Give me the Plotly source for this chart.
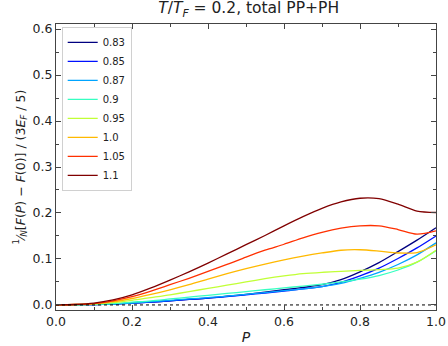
import plotly.graph_objects as go

P = [0.0, 0.05, 0.1, 0.15, 0.2, 0.25, 0.3, 0.35, 0.4, 0.45, 0.5, 0.55, 0.6, 0.65, 0.7, 0.75, 0.8, 0.85, 0.9, 0.95, 1.0]

labels = ["0.83", "0.85", "0.87", "0.9", "0.95", "1.0", "1.05", "1.1"]
colors = ["#000080", "#0010ff", "#00a4ff", "#36ffc1", "#c1ff36", "#ffb900", "#ff3000", "#800000"]

f_083 = [0, 0.0002, 0.001, 0.002, 0.004, 0.006, 0.009, 0.012, 0.015, 0.019, 0.023, 0.028, 0.033, 0.038, 0.044, 0.055, 0.072, 0.092, 0.116, 0.141, 0.168]
f_085 = [0, 0.0002, 0.001, 0.002, 0.004, 0.006, 0.009, 0.012, 0.015, 0.018, 0.022, 0.026, 0.030, 0.035, 0.040, 0.049, 0.063, 0.080, 0.101, 0.124, 0.150]
f_087 = [0, 0.0003, 0.001, 0.002, 0.004, 0.007, 0.010, 0.013, 0.016, 0.019, 0.023, 0.027, 0.031, 0.035, 0.040, 0.047, 0.058, 0.071, 0.088, 0.109, 0.135]
f_090 = [0, 0.0004, 0.0015, 0.003, 0.006, 0.009, 0.013, 0.017, 0.021, 0.025, 0.029, 0.033, 0.037, 0.041, 0.045, 0.050, 0.056, 0.064, 0.076, 0.093, 0.118]
f_095 = [0, 0.0005, 0.002, 0.005, 0.010, 0.016, 0.022, 0.029, 0.036, 0.043, 0.050, 0.057, 0.063, 0.068, 0.071, 0.073, 0.075, 0.077, 0.080, 0.093, 0.119]
f_100 = [0, 0.001, 0.003, 0.007, 0.014, 0.023, 0.033, 0.044, 0.056, 0.068, 0.079, 0.089, 0.098, 0.106, 0.113, 0.119, 0.120, 0.117, 0.113, 0.114, 0.131]
f_105 = [0, 0.001, 0.003, 0.009, 0.018, 0.030, 0.044, 0.058, 0.073, 0.088, 0.104, 0.119, 0.132, 0.146, 0.158, 0.167, 0.172, 0.172, 0.164, 0.154, 0.161]
f_110 = [0, 0.001, 0.004, 0.011, 0.022, 0.037, 0.054, 0.072, 0.091, 0.111, 0.131, 0.151, 0.172, 0.192, 0.210, 0.224, 0.232, 0.231, 0.219, 0.204, 0.201]

series = [f_083, f_085, f_087, f_090, f_095, f_100, f_105, f_110]

fig = go.Figure()
for lab, col, ys in zip(labels, colors, series):
    fig.add_trace(go.Scatter(x=P, y=ys, mode="lines", name=lab,
                             line=dict(color=col, width=1.3, shape="spline", smoothing=0.8)))

fig.add_trace(go.Scatter(x=[0, 1], y=[0, 0], mode="lines", showlegend=False,
                         line=dict(color="black", width=1, dash="dot")))

axis_common = dict(showgrid=False, zeroline=False, showline=True, linecolor="#444",
                   linewidth=1.2, mirror="ticks", ticks="inside", ticklen=5,
                   tickcolor="#444", tickfont=dict(size=12.5, color="#222"),
                   automargin=False)

fig.update_xaxes(range=[0, 1], tick0=0, dtick=0.2, tickformat=".1f",
                 minor=dict(ticks="inside", ticklen=3, dtick=0.1, tickcolor="#444"),
                 title=dict(text="<i>P</i>", font=dict(size=14, color="#222"), standoff=4),
                 **axis_common)
fig.update_yaxes(range=[-0.011, 0.611], tick0=0, dtick=0.1, tickformat=".1f",
                 minor=dict(ticks="inside", ticklen=3, dtick=0.05, tickcolor="#444"),
                 title=dict(text="<sup>1</sup>⁄<sub><i>N</i></sub>[<i>F</i>(<i>P</i>) − <i>F</i>(0)] / (3<i>E</i><sub><i>F</i></sub> / 5)",
                            font=dict(size=12.5, color="#222"), standoff=4),
                 **axis_common)

fig.update_layout(
    width=448, height=346,
    margin=dict(l=56, r=12, t=24, b=36),
    plot_bgcolor="white", paper_bgcolor="white",
    font=dict(family="DejaVu Sans", color="#222"),
    title=dict(text="<i>T</i>/<i>T<sub>F</sub></i> = 0.2, total PP+PH", x=0.555, xanchor="center",
               y=0.993, yanchor="top", font=dict(size=15.5, color="#222"), automargin=False),
    legend=dict(x=0.015, y=0.99, xanchor="left", yanchor="top",
                bgcolor="rgba(255,255,255,0.8)", bordercolor="#d0d0d0", borderwidth=1,
                font=dict(size=10), tracegroupgap=0, itemwidth=30),
    showlegend=True,
)

fig.write_html("out.html", config={"displayModeBar": False},
               post_script="document.body.style.margin='0';document.body.style.overflow='hidden';")
